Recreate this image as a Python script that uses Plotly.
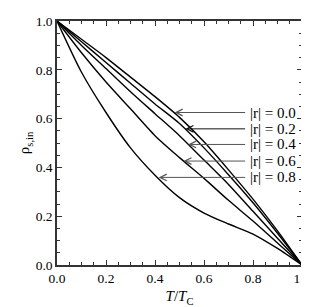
import plotly.graph_objects as go

T = [0.0, 0.1, 0.2, 0.3, 0.4, 0.5, 0.6, 0.7, 0.8, 0.9, 1.0]
rho_r00 = [1.0, 0.925, 0.85, 0.77, 0.69, 0.605, 0.505, 0.39, 0.27, 0.14, 0.0]
rho_r02 = [1.0, 0.915, 0.83, 0.745, 0.66, 0.58, 0.48, 0.37, 0.255, 0.13, 0.0]
rho_r04 = [1.0, 0.90, 0.805, 0.71, 0.62, 0.53, 0.43, 0.33, 0.22, 0.11, 0.0]
rho_r06 = [1.0, 0.87, 0.75, 0.64, 0.53, 0.44, 0.355, 0.265, 0.18, 0.09, 0.0]
rho_r08 = [1.0, 0.79, 0.625, 0.48, 0.368, 0.276, 0.213, 0.168, 0.127, 0.068, 0.0]

labels = ["|r| = 0.0", "|r| = 0.2", "|r| = 0.4", "|r| = 0.6", "|r| = 0.8"]
label_y = [0.625, 0.558, 0.494, 0.426, 0.359]
tip_x = [0.48, 0.524, 0.535, 0.516, 0.415]
label_x = 0.778

series = [rho_r00, rho_r02, rho_r04, rho_r06, rho_r08]

FAMILY = "Liberation Serif, Times New Roman, serif"

fig = go.Figure()
for s in series:
    fig.add_trace(go.Scatter(x=T, y=s, mode="lines",
                             line=dict(color="black", width=1.4, shape="spline", smoothing=0.7),
                             showlegend=False, hoverinfo="skip"))

font = dict(family=FAMILY, size=15, color="black")
tick_font = dict(family=FAMILY, size=13.5, color="black")
arrow_colors = ["#555", "#111", "#555", "#555", "#555"]
for lab, ly, tx, ac in zip(labels, label_y, tip_x, arrow_colors):
    fig.add_annotation(x=tx, y=ly, ax=label_x - 0.004, ay=ly, xref="x", yref="y", axref="x", ayref="y",
                       text="", showarrow=True, arrowhead=5, arrowsize=1.3, arrowwidth=1,
                       arrowcolor=ac, standoff=0)
    fig.add_annotation(x=label_x, y=ly, xref="x", yref="y", text=lab, showarrow=False,
                       xanchor="left", yanchor="middle", font=font)

axis_common = dict(range=[0, 1], dtick=0.2, tickformat=".1f", ticks="inside", ticklen=5, tickwidth=1.2,
                   tickcolor="#333", showline=True, linecolor="#333", linewidth=1.5, mirror="ticks",
                   showgrid=False, zeroline=False, tickfont=tick_font,
                   minor=dict(dtick=0.05, ticks="inside", ticklen=3, tickwidth=1, tickcolor="#333",
                              showgrid=False))

fig.update_xaxes(**axis_common, title=dict(text="<i>T</i>/<i>T</i><sub>C</sub>", font=font, standoff=6))
fig.update_yaxes(**axis_common, title=dict(text="ρ<sub>s,in</sub>", font=font, standoff=2))

fig.update_layout(width=309, height=307, margin=dict(l=49, r=10, t=6, b=50),
                  plot_bgcolor="white", paper_bgcolor="white",
                  font=dict(family=FAMILY, size=15, color="black"))
fig.write_html("out.html")
